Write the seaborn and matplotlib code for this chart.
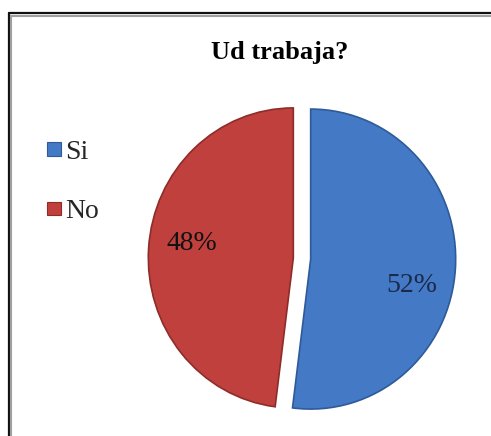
import matplotlib
matplotlib.use("Agg")
import matplotlib.pyplot as plt
from matplotlib.patches import Patch
from matplotlib.lines import Line2D
import seaborn as sns

# Data
categories = ["Si", "No"]
values = [52, 48]
colors = ["#4479c6", "#c0403d"]
edge_colors = ["#2d5a98", "#8e2c2a"]
title = "Ud trabaja?"

sns.set_theme(style="white")
plt.rcParams["font.family"] = ["Liberation Serif", "DejaVu Serif"]

W, H = 491, 436
fig = plt.figure(figsize=(W / 100, H / 100), dpi=100)
fig.patch.set_facecolor("white")

# axes so that unit radius = 145 px horizontally, 150 px vertically
cx, cy = 302, 258.5
rx, ry = 145, 150
lim = 1.1
ax = fig.add_axes([(cx - lim * rx) / W, (H - cy - lim * ry) / H,
                   2 * lim * rx / W, 2 * lim * ry / H])

wedges, texts, autotexts = ax.pie(
    values, colors=colors, startangle=90, counterclock=False,
    explode=[0.06, 0.06], autopct="%1.0f%%", pctdistance=0.70,
    wedgeprops=dict(linewidth=1.2),
    textprops=dict(fontsize=20, color="#111111"),
)
for w, ec in zip(wedges, edge_colors):
    w.set_edgecolor(ec)
ax.set_aspect("auto")
ax.set_xlim(-lim, lim)
ax.set_ylim(-lim, lim)

# small nudges of the percentage labels
nudges = [(0.0, -0.13), (0.0, 0.05)]
for t, (dx, dy) in zip(autotexts, nudges):
    x, y = t.get_position()
    t.set_position((x + dx, y + dy))
autotexts[0].set_color("#1b2a4a")

# title
fig.text(280 / W, 1 - 52 / H, title, ha="center", va="center",
         fontsize=19, fontweight="bold", color="black")

# legend
handles = [Patch(facecolor=c, edgecolor=ec, linewidth=0.8)
           for c, ec in zip(colors, edge_colors)]
fig.legend(handles, categories, loc="center left",
           bbox_to_anchor=(47 / W, 1 - 182 / H), bbox_transform=fig.transFigure,
           frameon=False, fontsize=20, handlelength=0.5, handleheight=0.38,
           handletextpad=0.15, labelspacing=1.25, borderpad=0, borderaxespad=0)

# chart frame (extends beyond the visible area on right and bottom)
x0 = 8.5 / W
y0 = 1 - 13.5 / H
fig.add_artist(Line2D([x0, x0], [-0.05, y0], transform=fig.transFigure,
                      color="#111111", linewidth=1.6))
fig.add_artist(Line2D([x0, 1.05], [y0, y0], transform=fig.transFigure,
                      color="#111111", linewidth=1.6))
x1 = 11 / W
y1 = 1 - 16 / H
fig.add_artist(Line2D([x1, x1], [-0.05, y1], transform=fig.transFigure,
                      color="#a0a0a0", linewidth=1.5))
fig.add_artist(Line2D([x1, 1.05], [y1, y1], transform=fig.transFigure,
                      color="#a0a0a0", linewidth=1.5))

fig.savefig("out.png", dpi=100)
